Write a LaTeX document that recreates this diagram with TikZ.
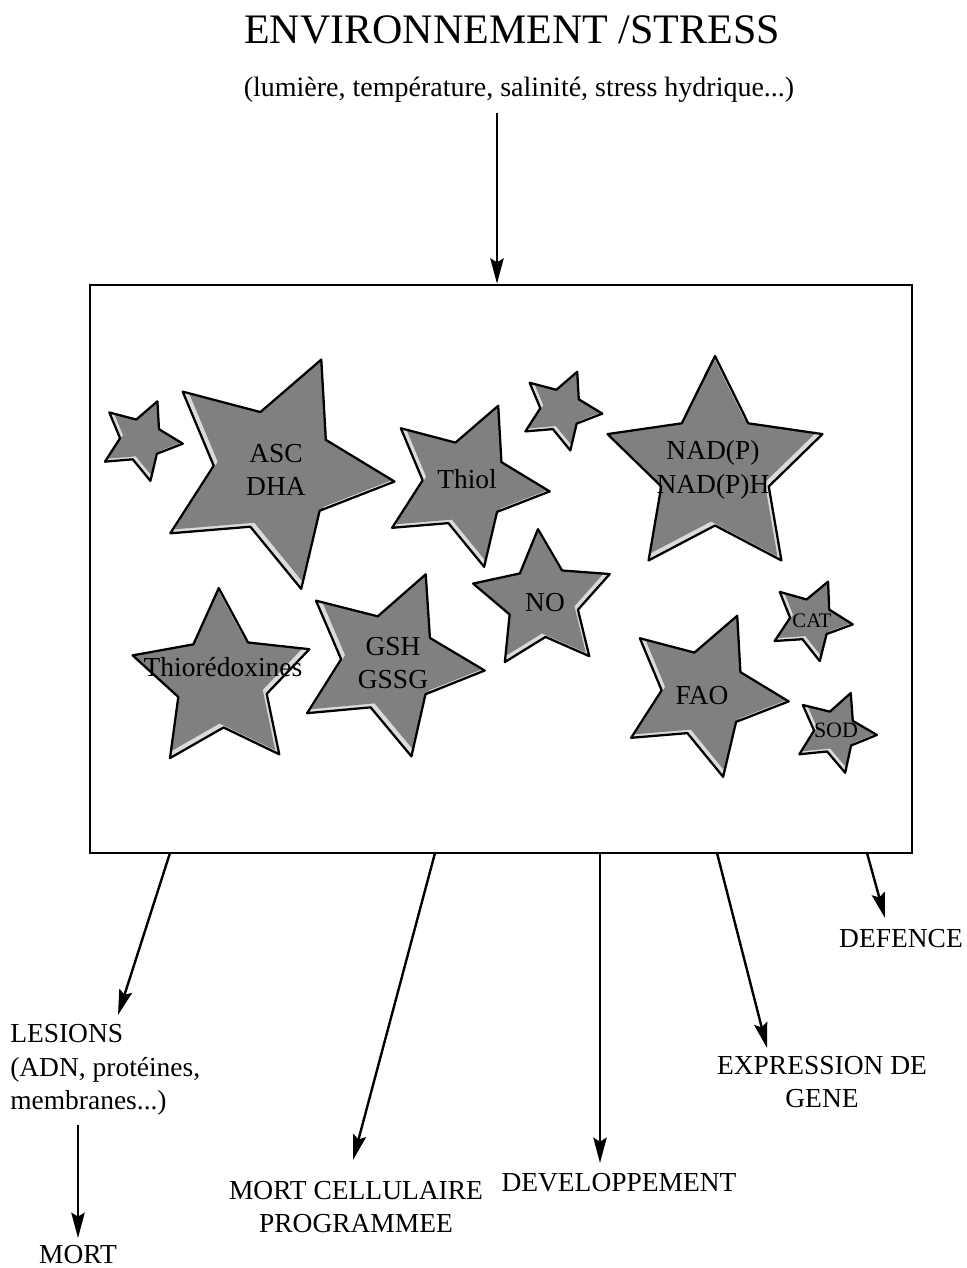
\documentclass[tikz,border=0pt]{standalone}
\usepackage{fontspec}
\setmainfont{Liberation Serif}
\usetikzlibrary{arrows.meta}

\definecolor{etoilegris}{gray}{0.5}
\definecolor{etoileclair}{gray}{0.86}

% star outline: #1 outer radius, #2 angle of first point
\newcommand{\etoilepts}[2]{({#2}:{#1}) -- ({#2+36}:{#1/2}) -- ({#2+72}:{#1})
  -- ({#2+108}:{#1/2}) -- ({#2+144}:{#1}) -- ({#2+180}:{#1/2}) -- ({#2+216}:{#1})
  -- ({#2+252}:{#1/2}) -- ({#2+288}:{#1}) -- ({#2+324}:{#1/2}) -- cycle}
% #1 name, #2 #3 centre, #4 radius, #5 angle, #6 #7 shift of the grey fill
\newcommand{\etoile}[7]{%
  \begin{scope}[shift={(#2,#3)},x=0.75pt,y=0.75pt]
    \fill[etoileclair] \etoilepts{#4}{#5};
    \begin{scope}
      \clip \etoilepts{#4}{#5};
      \fill[etoilegris,shift={(#6,#7)}] \etoilepts{#4}{#5};
    \end{scope}
    \draw[contour] \etoilepts{#4}{#5};
    \coordinate (#1) at (0,0);
  \end{scope}}

\begin{document}
\begin{tikzpicture}[x=0.75pt,y=-0.75pt,
  boite/.style={draw,line width=2pt,minimum width=616.5pt,minimum height=426pt,inner sep=0pt},
  contour/.style={draw=black,line width=1.7pt,line join=round},
  etiq/.style={align=center,inner sep=0pt,font=\fontsize{20.6}{25}\selectfont},
  petit/.style={inner sep=0pt,font=\fontsize{15.5}{18}\selectfont},
  fleche/.style={line width=1.8pt,-{Stealth[length=19pt,width=10pt,inset=3pt]}}
]
\useasboundingbox (0,0) rectangle (967,1268);

\node[inner sep=0pt,font=\fontsize{31.5}{36}\selectfont] (titre) at (512,30) {ENVIRONNEMENT /STRESS};
\node[inner sep=0pt,font=\fontsize{21}{25}\selectfont] (soustitre) at (519,90)
  {(lumière, température, salinité, stress hydrique...)};

\node[boite] (cellule) at (501,569) {};

\etoile{e-p1}{141}{440}{42}{67}{3}{3}
\etoile{e-asc}{274}{471}{121}{67}{4}{4}
\etoile{e-thiol}{465}{484}{85}{67}{3.5}{3.5}
\etoile{e-p2}{561}{410}{41.5}{67}{3}{3}
\etoile{e-nad}{715}{469}{113}{90}{-4}{4}
\etoile{e-no}{543}{601}{72}{94}{-3.5}{3.5}
\etoile{e-thio}{222}{681}{93}{92}{-4}{4}
\etoile{e-gsh}{389}{663}{96}{67.5}{4}{4}
\etoile{e-fao}{704}{694}{85}{67}{3.5}{3.5}
\etoile{e-cat}{811}{620}{42}{66}{3}{3}
\etoile{e-sod}{835}{732}{42}{68}{3}{3}

\node[etiq] (asc) at (276,470) {ASC\\DHA};
\node[etiq] (thiol) at (467,479) {Thiol};
\node[etiq] (nad) at (713,470) {NAD(P)\\NAD(P)H};
\node[etiq] (no) at (545,603) {NO};
\node[etiq] (thio) at (223,667) {Thiorédoxines};
\node[etiq] (gsh) at (393,663) {GSH\\GSSG};
\node[etiq] (fao) at (702,696) {FAO};
\node[petit] (cat) at (812,621) {CAT};
\node[petit,font=\fontsize{16.5}{19}\selectfont] (sod) at (836,730) {SOD};

\node[etiq,align=left,anchor=west] (lesions) at (10,1070) {LESIONS\\(ADN, protéines,\\membranes...)};
\node[etiq] (mort) at (78,1255) {MORT};
\node[etiq] (mcp) at (356,1207) {MORT CELLULAIRE\\PROGRAMMEE};
\node[etiq] (devel) at (619,1183) {DEVELOPPEMENT};
\node[etiq] (expr) at (822,1082) {EXPRESSION DE\\GENE};
\node[etiq] (defence) at (901,939) {DEFENCE};

\coordinate (d-env) at (497,113);
\coordinate (d-lesions) at (170,853); \coordinate (p-lesions) at (118,1015);
\coordinate (d-mcp) at (435,853);     \coordinate (p-mcp) at (353,1160);
\coordinate (d-devel) at (600,853);   \coordinate (p-devel) at (600,1163);
\coordinate (d-expr) at (717,853);    \coordinate (p-expr) at (767,1048);
\coordinate (d-defence) at (867,853); \coordinate (p-defence) at (885,918);
\coordinate (d-mort) at (78,1125);    \coordinate (p-mort) at (78,1238);

\draw[fleche] (d-env) -- (d-env |- cellule.north);
\draw[fleche] (d-lesions) -- (p-lesions);
\draw[fleche] (d-mcp) -- (p-mcp);
\draw[fleche] (d-devel) -- (p-devel);
\draw[fleche] (d-expr) -- (p-expr);
\draw[fleche] (d-defence) -- (p-defence);
\draw[fleche] (d-mort) -- (p-mort);
\end{tikzpicture}
\end{document}
